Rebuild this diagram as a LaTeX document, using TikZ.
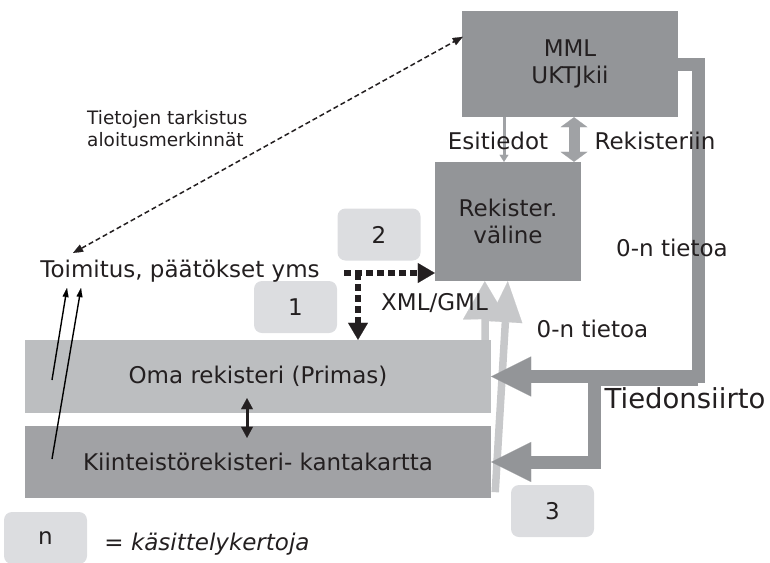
\documentclass[tikz,border=0pt]{standalone}
\usepackage{fontspec}
\setmainfont{DejaVu Sans}
\usetikzlibrary{positioning,arrows.meta,calc}
\definecolor{textdark}{HTML}{231F20}
\definecolor{boxgray}{HTML}{939598}
\definecolor{omagray}{HTML}{BCBEC0}
\definecolor{kiintgray}{HTML}{A1A2A5}
\definecolor{numgray}{HTML}{DCDDE0}
\definecolor{lightgray}{HTML}{C7C8CA}
\definecolor{arrowgray}{HTML}{A0A2A5}
\tikzset{main font/.style={font=\fontsize{23}{27}\selectfont,text=textdark},
box node/.style={main font,rectangle,inner sep=0pt,align=center},
num node/.style={main font,rectangle,rounded corners=8pt,fill=numgray,minimum width=83pt,minimum height=52pt,inner sep=0pt},
label node/.style={main font,inner sep=0pt,anchor=base},
block line/.style={draw=boxgray,line width=13pt,-{Triangle[length=40pt,width=40pt,line width=0.1pt]}},
light arrow/.style={draw=lightgray,line width=7.5pt},
dot line/.style={draw=textdark,line width=6.5pt,dash pattern=on 6.5pt off 4.5pt,-{Triangle[length=17pt,width=20pt,line width=0.1pt]}},
thin arrow/.style={draw=black,line width=1.4pt,-{Triangle[length=9pt,width=6pt,line width=0.1pt]}},
}
\begin{document}
\begin{tikzpicture}[x=1pt,y=-1pt]
\useasboundingbox (0,0) rectangle (770,562);
% boxes
\node[box node,fill=boxgray,minimum width=216pt,minimum height=106pt] (mml) at (570,64) {MML\\UKTJkii};
\node[box node,fill=boxgray,minimum width=146pt,minimum height=119pt] (rekister) at (508,221.5) {Rekister.\\väline};
\node[box node,fill=omagray,minimum width=466pt,minimum height=73pt] (oma) at (258,376.5) {Oma rekisteri (Primas)};
\node[box node,fill=kiintgray,minimum width=466pt,minimum height=72pt] (kiint) at (258,462) {Kiinteistörekisteri- kantakartta};

% numbers
\node[num node] (one) at (295.5,307) {1};
\node[num node] (two) at (379,234.5) {2};
\node[num node] (three) at (552.5,511) {3};
\node[num node] (n) at (45.5,538) {n};

% light arrows up to the register tool
\draw[light arrow,-{Triangle[length=38pt,width=44pt,line width=0.1pt]}] ($(oma.north east)+(-6,0)$) -- ($(rekister.south west)+(50,0)$);
\draw[light arrow,-{Triangle[length=41pt,width=34pt,line width=0.1pt]}] ($(kiint.south east)+(4,-6)$) -- ($(rekister.south west)+(73,0)$);

% block connectors from MML
\draw[block line] (mml.east) -- (698,64) -- (698,376.5) -- (oma.east);
\draw[block line] (698,379) -- (594,379) -- (594,462) -- (kiint.east);

% between MML and register tool
\coordinate (esi) at (504,0);
\coordinate (reg) at (574,0);
\draw[draw=arrowgray,line width=3pt,-{Triangle[length=7pt,width=9pt,line width=0.1pt]}] (esi |- mml.south) -- (esi |- rekister.north);
\draw[draw=arrowgray,line width=11pt,{Triangle[length=10pt,width=27pt,line width=0.1pt]}-{Triangle[length=10pt,width=27pt,line width=0.1pt]}] (reg |- mml.south) -- (reg |- rekister.north);

% XML/GML transfer
\coordinate (xml start) at (344,273);
\coordinate (xml split) at (358,273);
\draw[dot line] (xml start) -- (xml start -| rekister.west);
\draw[dot line] (xml split) -- (xml split |- oma.north);

% checks
\coordinate (check low) at (73,253);
\coordinate (check high) at ($(mml.north west)+(1,26)$);
\draw[draw=textdark,line width=1.5pt,dash pattern=on 5pt off 3pt,{Triangle[length=10pt,width=8pt,line width=0.1pt]}-{Triangle[length=10pt,width=8pt,line width=0.1pt]}] (check low) -- (check high);
\draw[draw=textdark,line width=3pt,{Triangle[length=11pt,width=12pt,line width=0.1pt]}-{Triangle[length=11pt,width=12pt,line width=0.1pt]}] ($(oma.south)+(-11,-15)$) -- ($(kiint.north)+(-11,12)$);

\coordinate (toim a) at (67,288);
\coordinate (toim b) at (81,288);
\draw[thin arrow] (52,380) -- (toim a);
\draw[thin arrow] (52,459) -- (toim b);

% texts
\node[label node] (toimitus) at (180,277) {Toimitus, päätökset yms};
\node[main font,inner sep=0pt,anchor=west,align=left,font=\fontsize{18.5}{22}\selectfont] (tarkistus) at (87,129) {Tietojen tarkistus\\aloitusmerkinnät};
\node[label node] (esitiedot) at (498,149) {Esitiedot};
\node[label node] (rekisteriin) at (655,149) {Rekisteriin};
\node[label node] (tietoa a) at (672,256) {0-n tietoa};
\node[label node] (tietoa b) at (592.5,337) {0-n tietoa};
\node[label node] (xml) at (434.5,310) {XML/GML};
\node[label node,font=\fontsize{27.5}{30}\selectfont] (siirto) at (685,408) {Tiedonsiirto};
\node[label node,font=\fontsize{23}{27}\selectfont\itshape] (selite) at (207,550) {= käsittelykertoja};
\end{tikzpicture}
\end{document}
